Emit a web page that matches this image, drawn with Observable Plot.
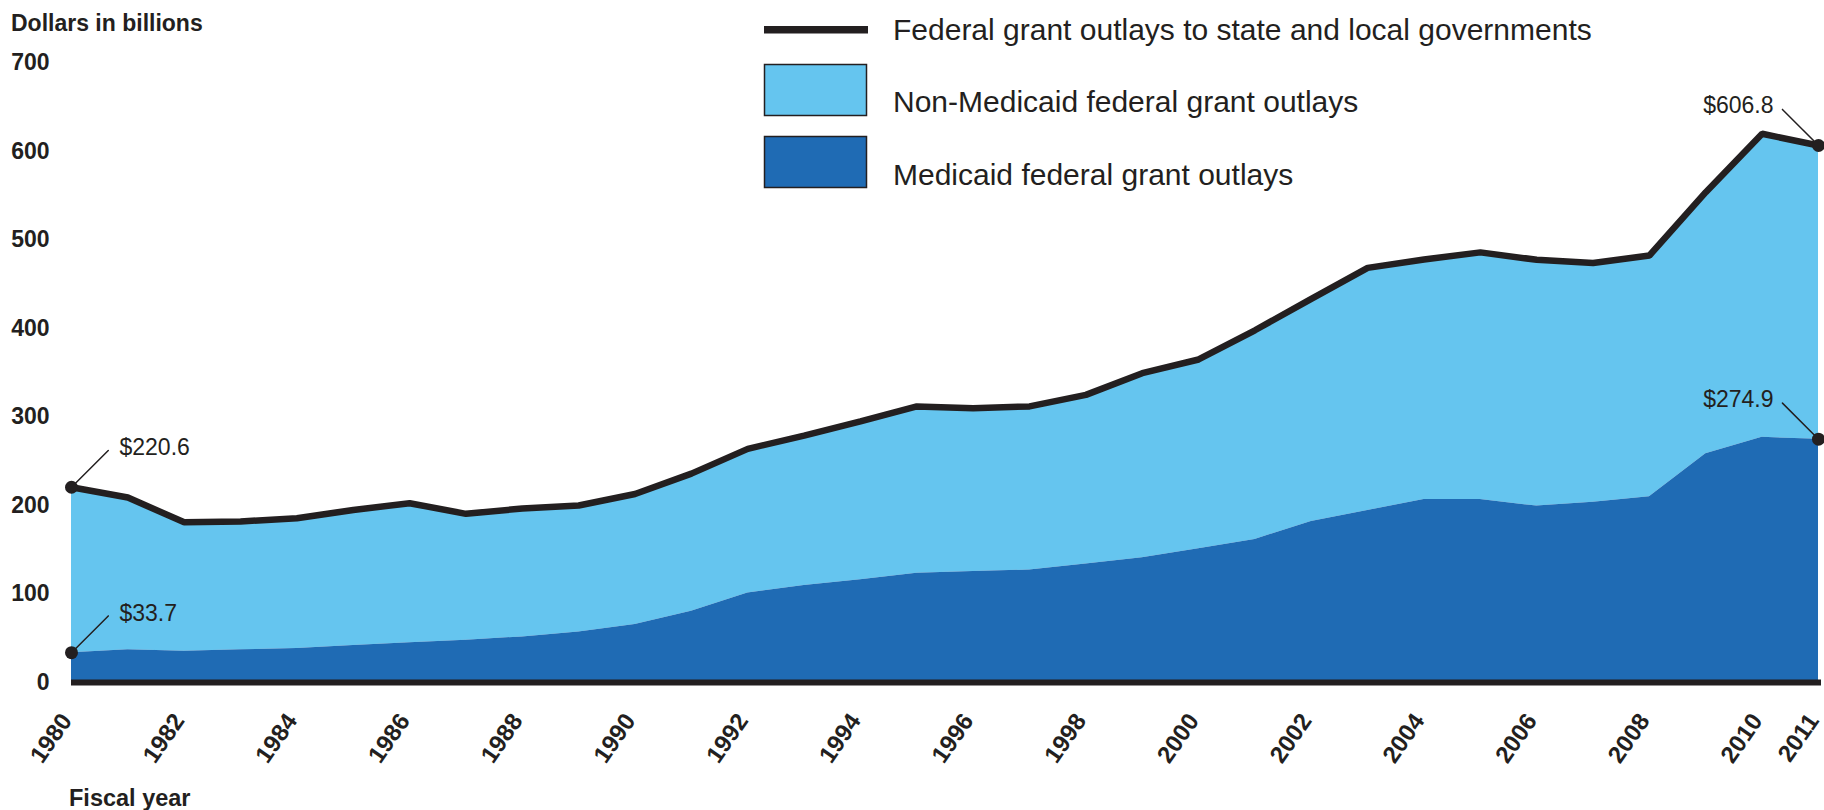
<!DOCTYPE html>
<html>
<head>
<meta charset="utf-8">
<script src="https://cdn.jsdelivr.net/npm/d3@7"></script>
<script src="https://cdn.jsdelivr.net/npm/@observablehq/plot@0.6"></script>
<style>
  html, body { margin: 0; padding: 0; background: #fff; }
  #wrap { position: relative; width: 1824px; height: 810px; overflow: hidden; }
  #wrap svg { display: block; }
  #overlay { position: absolute; left: 0; top: 0; pointer-events: none; }
</style>
</head>
<body>
<div id="wrap"></div>
<script>
// ---- data ----
const years = [1980,1981,1982,1983,1984,1985,1986,1987,1988,1989,1990,1991,1992,1993,1994,1995,
               1996,1997,1998,1999,2000,2001,2002,2003,2004,2005,2006,2007,2008,2009,2010,2011];
const totalOutlays = [220.6,209,181,182,185.6,195,202.6,190.6,196.6,200,213,236,264,279,295,312,
                      310,312,325,349.5,365,398,433.5,468.5,478,486,477.6,474,482.5,554,620,606.8];
const medicaidOutlays = [33.7,37,35.4,37,38.4,41.8,44.8,47.8,51.5,57,65.5,80.6,101,109.6,116,123.5,
                         125.5,127,134,141,151,161.6,182,194.4,206.8,206.8,199.3,203.8,210,258.4,277,274.9];
const yTicks = [0,100,200,300,400,500,600,700];
const xTicks = [1980,1982,1984,1986,1988,1990,1992,1994,1996,1998,2000,2002,2004,2006,2008,2010,2011];
const legendLabels = [
  "Federal grant outlays to state and local governments",
  "Non-Medicaid federal grant outlays",
  "Medicaid federal grant outlays"
];
const yAxisTitle = "Dollars in billions";
const xAxisTitle = "Fiscal year";

// ---- styles ----
const INK = "#231F20";
const LIGHT = "#65C5EF";
const DARK = "#1F6BB4";
const FONT = "'Liberation Sans', Arial, Helvetica, sans-serif";

const data = years.map((year, i) => ({year, total: totalOutlays[i], medicaid: medicaidOutlays[i]}));
const last = data.length - 1;
const annLeft = [
  {year: years[0], v: totalOutlays[0]},
  {year: years[0], v: medicaidOutlays[0]}
];
const annRight = [
  {year: years[last], v: totalOutlays[last]},
  {year: years[last], v: medicaidOutlays[last]}
];
const fmt = d => "$" + d.v.toFixed(1);
const segment = {draw(context, l) { context.moveTo(0, 0); context.lineTo(0, -l); }};

const chart = Plot.plot({
  width: 1824,
  height: 810,
  marginLeft: 71,
  marginRight: 6,
  marginTop: 62.5,
  marginBottom: 128,
  x: {domain: [1980, 2011]},
  y: {domain: [0, 700]},
  style: {fontFamily: FONT, color: INK, background: "#fff", overflow: "visible"},
  marks: [
    Plot.areaY(data, {x: "year", y1: "medicaid", y2: "total", fill: LIGHT}),
    Plot.areaY(data, {x: "year", y1: 0, y2: "medicaid", fill: DARK}),
    Plot.ruleY([0], {stroke: INK, strokeWidth: 6, insetRight: -3}),
    Plot.line(data, {x: "year", y: "total", stroke: INK, strokeWidth: 6.5, strokeLinejoin: "miter"}),
    Plot.vector(annLeft, {x: "year", y: "v", length: 52, rotate: 45, anchor: "start", shape: segment, stroke: INK, strokeWidth: 1.5}),
    Plot.vector(annRight, {x: "year", y: "v", length: 51, rotate: -45, anchor: "start", shape: segment, stroke: INK, strokeWidth: 1.5}),
    Plot.dot([...annLeft, ...annRight], {x: "year", y: "v", r: 6.5, fill: INK}),
    Plot.text(annLeft, {x: "year", y: "v", text: fmt, textAnchor: "start", lineAnchor: "bottom", dx: 48, dy: -32, fontSize: 23, fill: INK}),
    Plot.text(annRight, {x: "year", y: "v", text: fmt, textAnchor: "end", lineAnchor: "bottom", dx: -45, dy: -32.5, fontSize: 23, fill: INK}),
    Plot.axisY({ticks: yTicks, tickSize: 0, tickPadding: 22, fontSize: 23, fontWeight: "bold", fill: INK, label: null}),
    Plot.axisX({ticks: xTicks, tickSize: 0, tickPadding: 34, tickRotate: -55, dx: -5, fontSize: 24, fontWeight: "bold", fill: INK, label: null, tickFormat: d => String(d)})
  ]
});

const wrap = document.getElementById("wrap");
wrap.appendChild(chart);

// ---- overlay: titles and legend ----
const ov = d3.select(wrap).append("svg")
  .attr("id", "overlay")
  .attr("width", 1824).attr("height", 810)
  .style("font-family", FONT);

ov.append("text").attr("x", 11).attr("y", 31)
  .attr("font-size", 23).attr("font-weight", "bold").attr("fill", INK).text(yAxisTitle);
ov.append("text").attr("x", 69).attr("y", 806)
  .attr("font-size", 23.5).attr("font-weight", "bold").attr("fill", INK).text(xAxisTitle);

const lg = ov.append("g");
lg.append("rect").attr("x", 764).attr("y", 26).attr("width", 104).attr("height", 7.5).attr("fill", INK);
lg.append("rect").attr("x", 764.5).attr("y", 64.5).attr("width", 102).attr("height", 51)
  .attr("fill", LIGHT).attr("stroke", INK).attr("stroke-width", 1.5);
lg.append("rect").attr("x", 764.5).attr("y", 136.5).attr("width", 102).attr("height", 51)
  .attr("fill", DARK).attr("stroke", INK).attr("stroke-width", 1.5);
const baselines = [40, 112, 185];
legendLabels.forEach((t, i) => {
  lg.append("text").attr("x", 893).attr("y", baselines[i])
    .attr("font-size", 30).attr("fill", INK).text(t);
});
</script>
</body>
</html>
